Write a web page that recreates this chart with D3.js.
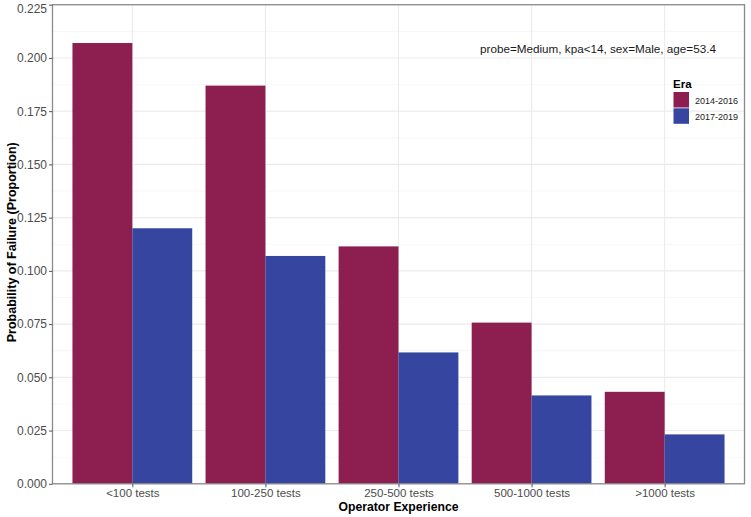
<!DOCTYPE html>
<html><head><meta charset="utf-8">
<script src="https://cdn.jsdelivr.net/npm/d3@7"></script>
<style>body{margin:0;background:#fff}svg{display:block}text{font-family:"Liberation Sans",Arial,sans-serif}</style>
</head><body><svg id="c" width="751" height="517"></svg>
<script>
const categories = ["<100 tests","100-250 tests","250-500 tests","500-1000 tests",">1000 tests"];
const eras = ["2014-2016","2017-2019"];
const era1 = [0.207,0.187,0.1115,0.0757,0.0432];
const era2 = [0.120,0.107,0.0617,0.0415,0.0232];
const yTicks = [0,0.025,0.05,0.075,0.1,0.125,0.15,0.175,0.2,0.225];
const colors = ["#8c1f50","#3545a0"];
const annotation = "probe=Medium, kpa<14, sex=Male, age=53.4";

const svg = d3.select("#c");
const L=52.5, R=744.5, T=4.7, B=483.8;
const y = d3.scaleLinear().domain([0,0.225]).range([B,T]);
const unit = (R-L)/5.2;
const xc = d3.scalePoint().domain(categories).range([L+0.6*unit, R-0.6*unit]);

const g = svg.append("g");
for(let i=0;i<yTicks.length-1;i++){
  const v=(yTicks[i]+yTicks[i+1])/2;
  g.append("line").attr("x1",L).attr("x2",R).attr("y1",y(v)).attr("y2",y(v)).attr("stroke","#f2f2f2").attr("stroke-width",0.6);
}
yTicks.forEach(v=>g.append("line").attr("x1",L).attr("x2",R).attr("y1",y(v)).attr("y2",y(v)).attr("stroke","#ebebeb").attr("stroke-width",1.1));
categories.forEach(c=>g.append("line").attr("x1",xc(c)).attr("x2",xc(c)).attr("y1",T).attr("y2",B).attr("stroke","#ebebeb").attr("stroke-width",1.1));

const series=[era1,era2];
series.forEach((vals,si)=>{
  g.selectAll(null).data(categories).enter().append("rect")
    .attr("x",c=>xc(c)-0.45*unit+si*0.45*unit)
    .attr("width",0.45*unit)
    .attr("y",(c,i)=>y(vals[i]))
    .attr("height",(c,i)=>B-y(vals[i]))
    .attr("fill",colors[si]);
});

svg.append("rect").attr("x",L).attr("y",T).attr("width",R-L).attr("height",B-T).attr("fill","none").attr("stroke","#8a8a8a").attr("stroke-width",1.3);

const yAxis = d3.axisLeft(y).tickValues(yTicks).tickFormat(d3.format(".3f")).tickSize(3.5).tickPadding(2);
const ya = svg.append("g").attr("transform",`translate(${L},0)`).call(yAxis);
ya.select(".domain").remove();
ya.selectAll("line").attr("stroke","#555");
ya.selectAll("text").attr("fill","#4d4d4d").style("font-size","12px");
ya.selectAll("text").filter(d=>d===0.225).attr("dy","0.62em");

const xAxis = d3.axisBottom(xc).tickSize(3.5).tickPadding(2);
const xa = svg.append("g").attr("transform",`translate(0,${B})`).call(xAxis);
xa.select(".domain").remove();
xa.selectAll("line").attr("stroke","#555");
xa.selectAll("text").attr("fill","#4d4d4d").style("font-size","11.5px");

svg.append("text").attr("x",(L+R)/2).attr("y",511).attr("text-anchor","middle").style("font-size","12.2px").style("font-weight","bold").text("Operator Experience");
svg.append("text").attr("transform",`translate(16,${(T+B)/2 - 2}) rotate(-90)`).attr("text-anchor","middle").style("font-size","12.5px").style("font-weight","bold").text("Probability of Failure (Proportion)");

svg.append("text").attr("x",598).attr("y",53).attr("text-anchor","middle").style("font-size","11.7px").attr("fill","#1a1a1a").text(annotation);

svg.append("text").attr("x",673).attr("y",88).style("font-size","11.5px").style("font-weight","bold").text("Era");
eras.forEach((e,i)=>{
  svg.append("rect").attr("x",673.5).attr("y",92+i*16.3).attr("width",15.5).attr("height",15.5).attr("fill",colors[i]);
  svg.append("text").attr("x",695).attr("y",92+i*16.3+11.5).style("font-size","9px").attr("fill","#1a1a1a").text(e);
});
</script></body></html>
